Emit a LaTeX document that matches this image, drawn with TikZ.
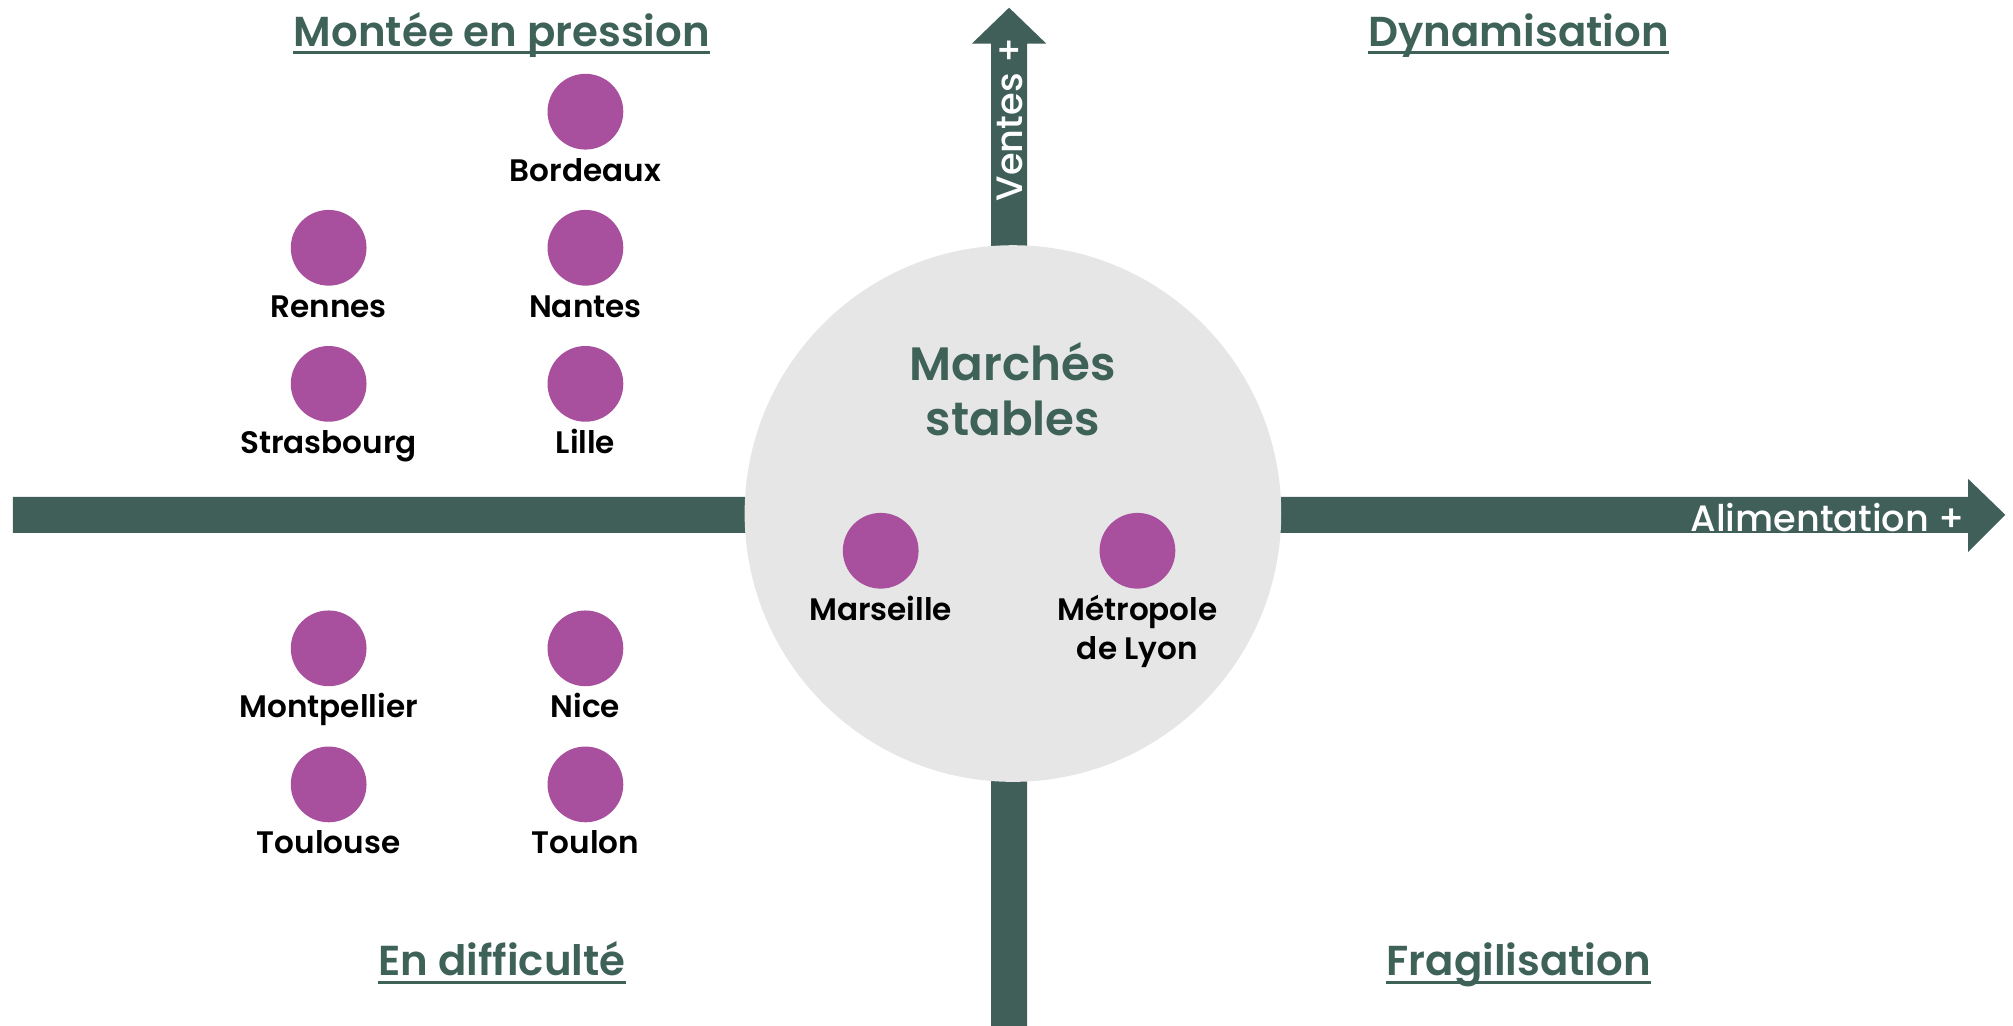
\documentclass[tikz,border=0pt]{standalone}
\usepackage{fontspec}
\setmainfont{Poppins}
\newfontfamily\semib{Poppins SemiBold}
\newfontfamily\medi{Poppins Medium}
\usetikzlibrary{calc}
\definecolor{axisgreen}{HTML}{3F5F58}
\definecolor{titlegreen}{HTML}{3E6158}
\definecolor{dotpurple}{HTML}{A8509E}
\definecolor{discgrey}{HTML}{E6E6E6}
\tikzset{
  dot/.style={circle, fill=dotpurple, minimum size=29.5pt, inner sep=0pt},
  city/.style={font=\semib\fontsize{12.1}{14}\selectfont, text=black, inner sep=0pt, anchor=base},
  quadtitle/.style={font=\semib\fontsize{16.3}{19}\selectfont, text=titlegreen, inner sep=0pt, anchor=base},
  uline/.style={draw=titlegreen, line width=1.1pt},
  centertitle/.style={font=\semib\fontsize{18.2}{22}\selectfont, text=titlegreen, inner sep=0pt, anchor=base},
  axislabel/.style={font=\medi\fontsize{14.3}{17}\selectfont, text=white, inner sep=0pt},
}
\begin{document}
\begin{tikzpicture}[x=0.5pt,y=-0.5pt]
\useasboundingbox (0,0) rectangle (1568,799);
% axes
\fill[axisgreen] (10,387) -- (1533,387) -- (1533,373) -- (1562,401) -- (1533,430) -- (1533,415) -- (10,415) -- cycle;
\fill[axisgreen] (772,800) -- (772,34) -- (757,34) -- (786,6) -- (815,34) -- (800,34) -- (800,800) -- cycle;
% central disc
\node[circle, fill=discgrey, minimum size=209pt, inner sep=0pt] (stable) at (789,400) {};
\node[centertitle] (st1) at (789,296) {Marchés};
\node[centertitle] (st2) at (789,339) {stables};
% axis labels
\node[axislabel, anchor=east] (alim) at (1531,403) {Alimentation +};
\node[axislabel, rotate=90] (ventes) at (787,93) {Ventes +};
% quadrant titles
\foreach \n/\x/\y/\t in {q1/391/36/{Montée en pression}, q2/1183/36/{Dynamisation}, q3/391/760/{En difficulté}, q4/1183/760/{Fragilisation}}{
  \node[quadtitle] (\n) at (\x,\y) {\t};
  \draw[uline] ($(\n.base west)+(0,5)$) -- ($(\n.base east)+(0,5)$);
}
% cities
\foreach \n/\x/\y/\t in {bordeaux/456/87/Bordeaux, rennes/256/193/Rennes, nantes/456/193/Nantes,
  strasbourg/256/299/Strasbourg, lille/456/299/Lille, montpellier/256/505/Montpellier,
  nice/456/505/Nice, toulouse/256/611/Toulouse, toulon/456/611/Toulon, marseille/686/429/Marseille}{
  \node[dot] (\n) at (\x,\y) {};
  \node[city] (\n-l) at ($(\n)+(0,54)$) {\t};
}
\node[dot] (lyon) at (886,429) {};
\node[city] (lyon-l1) at ($(lyon)+(0,54)$) {Métropole};
\node[city] (lyon-l2) at ($(lyon)+(0,85)$) {de Lyon};
\end{tikzpicture}
\end{document}
